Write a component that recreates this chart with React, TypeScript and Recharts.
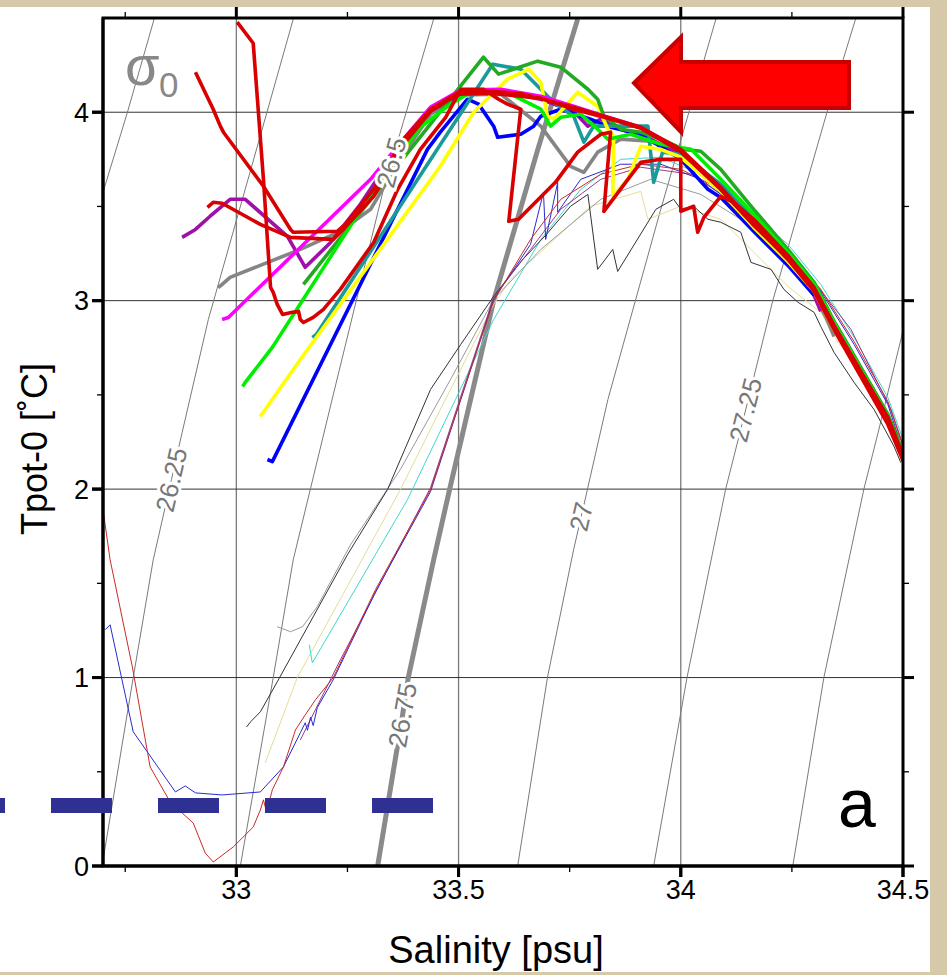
import React from 'react';
import { LineChart, Line, XAxis, YAxis, CartesianGrid } from 'recharts';

type Pair = [number, number];
type LabelSpec = { t: number; text: string; angle: number };

const FONT = '"Liberation Sans", Arial, Helvetica, sans-serif';

// ---------- axes ----------
const X_DOMAIN: [number, number] = [32.7, 34.5];
const Y_DOMAIN: [number, number] = [0, 4.5];
const X_MAJOR = [33, 33.5, 34, 34.5];
const X_MINOR = [32.75, 33.25, 33.75, 34.25];
const Y_MAJOR = [0, 1, 2, 3, 4];
const Y_MINOR = [0.5, 1.5, 2.5, 3.5];
const X_GRID = [33, 33.5, 34];
const Y_GRID = [1, 2, 3, 4];

// ---------- isopycnals (sigma-0) [salinity, temperature] ----------
const sigma26_00: Pair[] = [[32.7, 3.575], [32.755, 4.0], [32.815, 4.494]];
const sigma26_25: Pair[] = [[32.7, 0.03], [32.768, 1.0], [32.813, 1.625], [32.854, 2.05], [32.878, 2.3], [32.937, 2.9], [33.033, 3.7], [33.128, 4.494]];
const sigma26_50: Pair[] = [[33.009, 0], [33.083, 1.0], [33.128, 1.625], [33.218, 2.5], [33.331, 3.59], [33.349, 3.734], [33.376, 3.95], [33.444, 4.494]];
const sigma26_75: Pair[] = [[33.318, 0], [33.374, 0.8], [33.387, 1.0], [33.444, 1.625], [33.48, 2.0], [33.579, 3.0], [33.678, 3.8], [33.768, 4.494]];
const sigma27_00: Pair[] = [[33.633, 0], [33.7, 1.0], [33.759, 1.68], [33.776, 1.854], [33.836, 2.475], [33.955, 3.485], [34.079, 4.494]];
const sigma27_25: Pair[] = [[33.939, 0], [34.014, 1.0], [34.101, 2.0], [34.146, 2.42], [34.207, 3.0], [34.329, 4.0], [34.394, 4.5]];
const sigma27_50: Pair[] = [[34.252, 0], [34.322, 1.0], [34.412, 2.0], [34.444, 2.3], [34.5, 2.84]];

// ---------- thick profiles ----------
const redA: Pair[] = [[33.002, 4.478], [33.038, 4.366], [33.061, 3.644], [33.077, 3.07], [33.083, 3.044], [33.092, 2.98], [33.104, 2.927], [33.126, 2.938], [33.14, 2.943], [33.144, 2.9], [33.151, 2.884], [33.173, 2.911], [33.196, 2.954], [33.234, 3.06], [33.309, 3.309], [33.363, 3.591], [33.414, 3.803], [33.471, 3.973], [33.505, 4.122], [33.556, 4.122], [33.59, 4.069], [33.61, 4.043], [33.64, 4.016], [33.613, 3.421], [33.635, 3.432], [33.718, 3.628], [33.768, 3.788], [33.82, 3.883], [33.842, 3.894], [33.827, 3.474], [33.881, 3.644], [33.91, 3.734], [33.955, 3.75], [34.0, 3.75], [34.0, 3.474], [34.029, 3.501], [34.038, 3.363], [34.052, 3.442], [34.09, 3.554], [34.119, 3.522], [34.164, 3.432], [34.241, 3.24], [34.3, 3.07], [34.345, 2.868], [34.405, 2.624], [34.466, 2.38], [34.502, 2.167]];
const redB: Pair[] = [[32.908, 4.212], [32.948, 4.016], [32.964, 3.926], [32.971, 3.894], [33.061, 3.607], [33.122, 3.378], [33.128, 3.363], [33.227, 3.368], [33.245, 3.405], [33.309, 3.591], [33.376, 3.857], [33.437, 4.016], [33.505, 4.112], [33.572, 4.112], [33.646, 4.096], [33.759, 4.027], [33.91, 3.92], [34.0, 3.803], [34.09, 3.602], [34.164, 3.405], [34.241, 3.219], [34.3, 3.049], [34.345, 2.847], [34.405, 2.598], [34.466, 2.343], [34.502, 2.141]];
const redC: Pair[] = [[32.935, 3.495], [32.948, 3.522], [32.968, 3.517], [33.054, 3.405], [33.122, 3.336], [33.218, 3.325], [33.245, 3.389], [33.309, 3.554], [33.376, 3.83], [33.437, 4.005], [33.498, 4.096], [33.572, 4.101], [33.685, 4.075], [33.759, 4.016], [33.836, 3.968], [33.91, 3.915], [34.0, 3.79], [34.09, 3.59], [34.164, 3.4], [34.241, 3.225]];
const purple: Pair[] = [[32.878, 3.336], [32.908, 3.378], [32.941, 3.448], [32.986, 3.538], [33.02, 3.538], [33.115, 3.341], [33.155, 3.177], [33.212, 3.309], [33.279, 3.511], [33.369, 3.83], [33.437, 4.005], [33.505, 4.096], [33.595, 4.106], [33.685, 4.069], [33.759, 4.005], [33.791, 3.926], [33.82, 3.963], [33.865, 3.91], [33.932, 3.857], [34.0, 3.777], [34.09, 3.58], [34.164, 3.389], [34.241, 3.208], [34.297, 3.044], [34.315, 2.943]];
const magenta: Pair[] = [[32.968, 2.9], [32.982, 2.911], [33.302, 3.644], [33.376, 3.857], [33.437, 4.027], [33.505, 4.117], [33.595, 4.122], [33.685, 4.085], [33.759, 4.032], [33.836, 3.973], [33.91, 3.92], [34.0, 3.793], [34.09, 3.591], [34.164, 3.405], [34.241, 3.23], [34.3, 3.06], [34.345, 2.868], [34.405, 2.624]];
const grayThick: Pair[] = [[32.959, 3.07], [32.968, 3.086], [32.986, 3.124], [33.144, 3.272], [33.234, 3.368], [33.302, 3.485], [33.369, 3.75], [33.437, 3.989], [33.505, 4.091], [33.595, 4.096], [33.685, 3.926], [33.752, 3.713], [33.782, 3.681], [33.813, 3.788], [33.865, 3.857], [33.932, 3.846], [34.0, 3.777], [34.09, 3.58], [34.164, 3.389], [34.241, 3.208], [34.3, 3.033], [34.327, 2.911], [34.345, 2.81]];
const greenDark: Pair[] = [[33.151, 3.086], [33.556, 4.292], [33.59, 4.202], [33.678, 4.271], [33.73, 4.239], [33.791, 4.122], [33.813, 4.069], [33.827, 3.979], [33.865, 3.91], [33.91, 3.894], [33.955, 3.857], [34.007, 3.803], [34.045, 3.793], [34.09, 3.697], [34.164, 3.485], [34.241, 3.272], [34.3, 3.097], [34.345, 2.89], [34.405, 2.645], [34.466, 2.396], [34.502, 2.183]];
const lime: Pair[] = [[33.014, 2.545], [33.02, 2.566], [33.081, 2.752], [33.324, 3.644], [33.414, 3.92], [33.482, 4.043], [33.527, 4.106], [33.617, 4.096], [33.685, 4.016], [33.707, 3.926], [33.73, 3.973], [33.775, 3.989], [33.813, 3.91], [33.836, 3.857], [33.887, 3.883], [33.955, 3.83], [34.023, 3.803], [34.09, 3.644], [34.164, 3.459], [34.241, 3.256], [34.3, 3.086], [34.345, 2.884], [34.405, 2.635], [34.466, 2.385], [34.502, 2.172]];
const teal: Pair[] = [[33.171, 2.805], [33.18, 2.82], [33.577, 4.255], [33.64, 4.228], [33.685, 4.122], [33.714, 4.053], [33.759, 3.979], [33.782, 3.841], [33.804, 3.926], [33.926, 3.926], [33.939, 3.628], [33.959, 3.788], [34.0, 3.777], [34.09, 3.618], [34.164, 3.432], [34.241, 3.245], [34.3, 3.081], [34.345, 2.873], [34.405, 2.635], [34.466, 2.385], [34.502, 2.178]];
const yellow: Pair[] = [[33.054, 2.385], [33.065, 2.422], [33.144, 2.688], [33.459, 3.713], [33.534, 4.0], [33.61, 4.175], [33.658, 4.228], [33.685, 4.159], [33.7, 3.979], [33.714, 3.963], [33.768, 4.106], [33.813, 4.032], [33.836, 3.91], [33.849, 3.873], [33.847, 3.554], [33.881, 3.644], [33.91, 3.819], [33.955, 3.803], [34.0, 3.761], [34.09, 3.58], [34.164, 3.389], [34.241, 3.208], [34.3, 3.049], [34.345, 2.847], [34.405, 2.603], [34.466, 2.358], [34.502, 2.146]];
const blue: Pair[] = [[33.07, 2.157], [33.081, 2.146], [33.43, 3.803], [33.459, 3.894], [33.52, 4.069], [33.545, 4.043], [33.579, 3.926], [33.588, 3.867], [33.64, 3.883], [33.669, 3.926], [33.685, 3.979], [33.73, 4.016], [33.797, 3.963], [33.842, 3.92], [33.91, 3.883], [34.0, 3.75], [34.061, 3.591], [34.09, 3.548], [34.164, 3.368], [34.241, 3.187], [34.3, 3.028]];

// ---------- thin profiles ----------
const thinRed: Pair[] = [[32.7, 1.891], [32.716, 1.625], [32.766, 1.057], [32.806, 0.526], [32.851, 0.34], [32.903, 0.228], [32.93, 0.069], [32.948, 0.021], [32.993, 0.101], [33.038, 0.207], [33.054, 0.297], [33.061, 0.351], [33.068, 0.287], [33.081, 0.404], [33.106, 0.526], [33.133, 0.722], [33.155, 0.802], [33.178, 0.882], [33.218, 0.999], [33.313, 1.466], [33.437, 1.997], [33.579, 3.0], [33.662, 3.325], [33.73, 3.538], [33.82, 3.671], [33.91, 3.724], [34.0, 3.697], [34.09, 3.591], [34.164, 3.421], [34.241, 3.262], [34.315, 3.06], [34.39, 2.783], [34.466, 2.465], [34.5, 2.226]];
const thinBlue: Pair[] = [[32.705, 1.254], [32.716, 1.28], [32.768, 0.712], [32.863, 0.393], [32.885, 0.425], [32.908, 0.388], [32.968, 0.377], [33.054, 0.393], [33.106, 0.526], [33.144, 0.707], [33.155, 0.76], [33.16, 0.72], [33.167, 0.79], [33.173, 0.745], [33.182, 0.84], [33.218, 0.988], [33.313, 1.455], [33.437, 1.987], [33.579, 3.007], [33.662, 3.299], [33.691, 3.575], [33.696, 3.325], [33.723, 3.628], [33.723, 3.469], [33.775, 3.644], [33.865, 3.724], [33.955, 3.724], [34.045, 3.644], [34.135, 3.485], [34.241, 3.272], [34.315, 3.049], [34.39, 2.768], [34.466, 2.449], [34.495, 2.236]];
const thinBlack: Pair[] = [[33.023, 0.738], [33.032, 0.765], [33.054, 0.818], [33.092, 0.977], [33.25, 1.652], [33.34, 1.997], [33.437, 2.529], [33.505, 2.768], [33.579, 3.023], [33.64, 3.208], [33.696, 3.347], [33.752, 3.501], [33.791, 3.564], [33.813, 3.166], [33.847, 3.272], [33.858, 3.155], [33.944, 3.485], [33.984, 3.538], [34.0, 3.485], [34.029, 3.501], [34.061, 3.432], [34.09, 3.416], [34.135, 3.363], [34.158, 3.203], [34.203, 3.166], [34.232, 3.06], [34.264, 2.991], [34.3, 2.938], [34.315, 2.863], [34.345, 2.725], [34.39, 2.566], [34.435, 2.422], [34.48, 2.226], [34.495, 2.141]];
const thinGray: Pair[] = [[33.092, 1.27], [33.122, 1.243], [33.149, 1.27], [33.182, 1.376], [33.257, 1.705], [33.369, 2.104], [33.482, 2.582], [33.579, 3.007], [33.685, 3.272], [33.82, 3.538], [33.932, 3.644], [34.045, 3.564], [34.164, 3.389], [34.27, 3.166], [34.36, 2.847], [34.45, 2.475], [34.495, 2.263]];
const thinPaleYellow: Pair[] = [[33.065, 0.547], [33.137, 0.999], [33.369, 1.997], [33.459, 2.422], [33.579, 2.98], [33.617, 3.113], [33.723, 3.341], [33.797, 3.501], [33.91, 3.58], [33.926, 3.432], [34.0, 3.501], [34.09, 3.432], [34.151, 3.288], [34.241, 3.076], [34.315, 2.938], [34.354, 2.778], [34.39, 2.688], [34.466, 2.385], [34.495, 2.157]];
const thinCyan: Pair[] = [[33.164, 1.174], [33.171, 1.078], [33.385, 1.944], [33.493, 2.475], [33.579, 2.9], [33.685, 3.325], [33.775, 3.591], [33.865, 3.75], [33.955, 3.761], [34.045, 3.671], [34.135, 3.511], [34.241, 3.299], [34.315, 3.086], [34.39, 2.805], [34.466, 2.486], [34.5, 2.263]];
const thinPurple: Pair[] = [[33.144, 0.669], [33.234, 1.094], [33.437, 2.008], [33.579, 3.018], [33.662, 3.272], [33.73, 3.485], [33.82, 3.644], [33.91, 3.708], [34.023, 3.671], [34.135, 3.495], [34.27, 3.193], [34.383, 2.847], [34.473, 2.422], [34.5, 2.236]];

// ---------- series tables built from the arrays ----------
const ISO_COLOR = '#7a7a7a';
const ISO: { key: string; data: Pair[]; width: number; color: string; label?: LabelSpec }[] = [
  { key: 's2600', data: sigma26_00, width: 1, color: ISO_COLOR },
  { key: 's2625', data: sigma26_25, width: 1, color: ISO_COLOR, label: { t: 2.05, text: '26.25', angle: -77 } },
  { key: 's2650', data: sigma26_50, width: 1, color: ISO_COLOR, label: { t: 3.734, text: '26.5', angle: -75 } },
  { key: 's2675', data: sigma26_75, width: 5, color: '#8a8a8a', label: { t: 0.8, text: '26.75', angle: -80 } },
  { key: 's2700', data: sigma27_00, width: 1, color: ISO_COLOR, label: { t: 1.854, text: '27', angle: -77 } },
  { key: 's2725', data: sigma27_25, width: 1, color: ISO_COLOR, label: { t: 2.42, text: '27.25', angle: -76 } },
  { key: 's2750', data: sigma27_50, width: 1, color: ISO_COLOR },
];

const THIN: { key: string; data: Pair[]; color: string }[] = [
  { key: 'tPale', data: thinPaleYellow, color: '#e6dc98' },
  { key: 'tCyan', data: thinCyan, color: '#3fd8c8' },
  { key: 'tGray', data: thinGray, color: '#9a9a9a' },
  { key: 'tBlack', data: thinBlack, color: '#333333' },
  { key: 'tPurple', data: thinPurple, color: '#9a3c8c' },
  { key: 'tBlue', data: thinBlue, color: '#2a2ad0' },
  { key: 'tRed', data: thinRed, color: '#cc2a2a' },
];

const THICK: { key: string; data: Pair[]; color: string }[] = [
  { key: 'gray', data: grayThick, color: '#858585' },
  { key: 'purple', data: purple, color: '#a010a8' },
  { key: 'blue', data: blue, color: '#0000ff' },
  { key: 'teal', data: teal, color: '#1a9a9a' },
  { key: 'yellow', data: yellow, color: '#ffff00' },
  { key: 'green', data: greenDark, color: '#22aa22' },
  { key: 'lime', data: lime, color: '#00ee00' },
  { key: 'magenta', data: magenta, color: '#ff00ff' },
  { key: 'redC', data: redC, color: '#d80000' },
  { key: 'redB', data: redB, color: '#d80000' },
  { key: 'redA', data: redA, color: '#d80000' },
];

const rows = (arr: Pair[]) => arr.map(([s, t]) => ({ s, t }));

// ---------- plot geometry (chart margins) ----------
const W = 947;
const H = 975;
const M_TOP = 18;
const M_RIGHT = 44;
const M_BOTTOM = 69;
const X_AXIS_H = 40;
const Y_AXIS_W = 103;
const P_LEFT = Y_AXIS_W;
const P_RIGHT = W - M_RIGHT;
const P_TOP = M_TOP;
const P_BOTTOM = H - M_BOTTOM - X_AXIS_H;
const fx = (v: number) => P_LEFT + ((v - X_DOMAIN[0]) / (X_DOMAIN[1] - X_DOMAIN[0])) * (P_RIGHT - P_LEFT);
const fy = (v: number) => P_BOTTOM - ((v - Y_DOMAIN[0]) / (Y_DOMAIN[1] - Y_DOMAIN[0])) * (P_BOTTOM - P_TOP);

const EmptyTick = () => <g />;
const TICK_TEXT = { fontSize: 27, fill: '#000', fontFamily: FONT };

const makeIsoLabel = (lbl: LabelSpec) => (p: any) => {
  const v = Number(p.value);
  if (!(Math.abs(v - lbl.t) < 1e-9)) return <g />;
  const vb = p.viewBox || {};
  const x = vb.x ?? p.x;
  const y = vb.y ?? p.y;
  return (
    <text
      x={x}
      y={y}
      transform={`rotate(${lbl.angle} ${x} ${y})`}
      textAnchor="middle"
      dominantBaseline="central"
      fontSize={26}
      fontFamily={FONT}
      fill="#777"
      stroke="#ffffff"
      strokeWidth={6}
      paintOrder="stroke"
    >
      {lbl.text}
    </text>
  );
};

function Frame() {
  const maj = 11;
  const min = 6;
  return (
    <g stroke="#000" fill="none">
      <rect x={P_LEFT} y={P_TOP} width={P_RIGHT - P_LEFT} height={P_BOTTOM - P_TOP} strokeWidth={3} />
      {X_MAJOR.map((v) => (
        <g key={`xM${v}`} strokeWidth={3}>
          <line x1={fx(v)} x2={fx(v)} y1={P_BOTTOM} y2={P_BOTTOM + maj} />
          <line x1={fx(v)} x2={fx(v)} y1={P_TOP} y2={P_TOP - maj} />
        </g>
      ))}
      {X_MINOR.map((v) => (
        <g key={`xm${v}`} strokeWidth={1.3}>
          <line x1={fx(v)} x2={fx(v)} y1={P_BOTTOM} y2={P_BOTTOM + min} />
          <line x1={fx(v)} x2={fx(v)} y1={P_TOP} y2={P_TOP - min} />
        </g>
      ))}
      {Y_MAJOR.map((v) => (
        <g key={`yM${v}`} strokeWidth={3}>
          <line x1={P_LEFT} x2={P_LEFT - maj} y1={fy(v)} y2={fy(v)} />
          <line x1={P_RIGHT} x2={P_RIGHT + maj} y1={fy(v)} y2={fy(v)} />
        </g>
      ))}
      {Y_MINOR.map((v) => (
        <g key={`ym${v}`} strokeWidth={1.3}>
          <line x1={P_LEFT} x2={P_LEFT - min} y1={fy(v)} y2={fy(v)} />
          <line x1={P_RIGHT} x2={P_RIGHT + min} y1={fy(v)} y2={fy(v)} />
        </g>
      ))}
    </g>
  );
}

export default function App() {
  return (
    <div style={{ position: 'absolute', left: 0, top: 0, width: W, height: H, background: '#d6c9aa', overflow: 'hidden' }}>
      <div style={{ position: 'absolute', left: 0, top: 7, width: 930, height: 965, background: '#ffffff' }} />
      <div style={{ position: 'absolute', left: 0, top: 0 }}>
        <LineChart width={W} height={H} margin={{ top: M_TOP, right: M_RIGHT, bottom: M_BOTTOM, left: 0 }}>
          <CartesianGrid horizontal={false} vertical verticalValues={X_GRID} stroke="#7a7a7a" strokeWidth={1.3} />
          <CartesianGrid vertical={false} horizontal horizontalValues={Y_GRID} stroke="#333333" strokeWidth={1} />
          <XAxis type="number" dataKey="s" domain={X_DOMAIN} allowDataOverflow ticks={X_MAJOR} interval={0}
            height={X_AXIS_H} tickSize={11} tickMargin={3} tickLine={{ stroke: '#000', strokeWidth: 3 }} tick={TICK_TEXT}
            axisLine={{ stroke: '#000', strokeWidth: 3 }} />
          <YAxis type="number" domain={Y_DOMAIN} allowDataOverflow ticks={Y_MAJOR} interval={0}
            width={Y_AXIS_W} tickSize={11} tickMargin={3} tickLine={{ stroke: '#000', strokeWidth: 3 }} tick={TICK_TEXT}
            axisLine={{ stroke: '#000', strokeWidth: 3 }} />
          {ISO.map((c) => (
            <Line
              key={c.key}
              data={rows(c.data)}
              dataKey="t"
              type="linear"
              stroke={c.color}
              strokeWidth={c.width}
              dot={false}
              activeDot={false}
              isAnimationActive={false}
              label={c.label ? makeIsoLabel(c.label) : false}
            />
          ))}
          {THIN.map((c) => (
            <Line
              key={c.key}
              data={rows(c.data)}
              dataKey="t"
              type="linear"
              stroke={c.color}
              strokeWidth={1}
              dot={false}
              activeDot={false}
              isAnimationActive={false}
            />
          ))}
          {THICK.map((c) => (
            <Line
              key={c.key}
              data={rows(c.data)}
              dataKey="t"
              type="linear"
              stroke={c.color}
              strokeWidth={3.6}
              strokeLinejoin="round"
              dot={false}
              activeDot={false}
              isAnimationActive={false}
            />
          ))}
        </LineChart>
      </div>
      <svg width={W} height={H} style={{ position: 'absolute', left: 0, top: 0, pointerEvents: 'none' }}>
        <Frame />
        <line x1={-56} y1={805.5} x2={434} y2={805.5} stroke="#2e3192" strokeWidth={15} strokeDasharray="61 46" />
        <polygon
          points="634,83 681,37 681,62 849,62 849,108 681,108 681,132"
          fill="#ff0000"
          stroke="#c80000"
          strokeWidth={4}
        />
        <text x={125} y={85} fontSize={56} fontFamily={FONT} fill="#888">σ</text>
        <text x={159} y={97} fontSize={35} fontFamily={FONT} fill="#888">0</text>
        <text x={838} y={827} fontSize={68} fontFamily={FONT} fill="#000">a</text>
        <text x={47} y={449} transform="rotate(-90 47 449)" textAnchor="middle" fontSize={36} fontFamily={FONT} fill="#000">
          Tpot-0 [˚C]
        </text>
        <text x={496} y={963} textAnchor="middle" fontSize={38} fontFamily={FONT} fill="#000">
          Salinity [psu]
        </text>
      </svg>
    </div>
  );
}
